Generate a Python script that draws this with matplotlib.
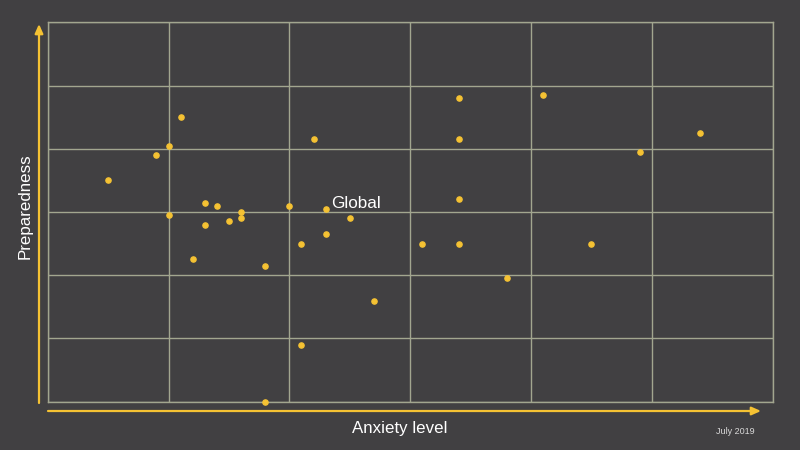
import matplotlib
matplotlib.use("Agg")
import matplotlib.pyplot as plt

# country points (anxiety, preparedness)
anxiety = [1.10, 1.00, 0.90, 0.50, 1.30, 1.40, 1.60, 1.00, 1.60, 1.50, 1.30,
           1.20, 1.80, 1.80, 2.20, 2.00, 2.30, 2.50, 2.30, 2.10, 2.70, 2.10,
           3.40, 4.10, 3.40, 3.40, 3.10, 3.40, 3.80, 5.40, 4.90, 4.50]
preparedness = [4.50, 4.05, 3.90, 3.50, 3.15, 3.10, 3.00, 2.95, 2.90, 2.85, 2.80,
                2.25, 2.15, 0.00, 4.15, 3.10, 3.05, 2.90, 2.65, 2.49, 1.60, 0.90,
                4.80, 4.85, 4.15, 3.20, 2.50, 2.50, 1.95, 4.25, 3.95, 2.50]
global_idx = 16
ticks = [0, 1, 2, 3, 4, 5, 6]

bg = "#414042"
gridc = "#a2a68f"
yellow = "#f5c233"

plt.rcParams['font.family'] = ['Liberation Sans', 'DejaVu Sans']

fig = plt.figure(figsize=(8, 4.5), dpi=100, facecolor=bg)
ax = fig.add_axes([47.7/800, 1-401.7/450, 725/800, 379.4/450])
ax.set_facecolor(bg)
ax.set_xlim(0, 6)
ax.set_ylim(0, 6)
ax.set_xticks(ticks)
ax.set_yticks(ticks)
ax.tick_params(length=0, labelbottom=False, labelleft=False)
ax.grid(True, color=gridc, linewidth=1.0)
for s in ax.spines.values():
    s.set_color(gridc)
    s.set_linewidth(1.0)

ax.scatter(anxiety, preparedness, s=14, color=yellow, zorder=3, clip_on=False)
ax.text(anxiety[global_idx] + 0.045, preparedness[global_idx] + 0.08, "Global",
        color="white", fontsize=12.3, ha="left", va="center")

# axis arrows
ap = dict(arrowstyle="-|>,head_length=0.45,head_width=0.2", color=yellow, lw=1.6,
          shrinkA=0, shrinkB=0)
fig.add_artist(matplotlib.patches.FancyArrowPatch((39, 450-403), (39, 450-24), transform=None,
                                                  mutation_scale=12, **ap))
fig.add_artist(matplotlib.patches.FancyArrowPatch((48, 450-411), (761, 450-411), transform=None,
                                                  mutation_scale=12, **ap))

fig.text(25/800, 1-206/450, "Preparedness", rotation=90, color="white", fontsize=12.2,
         ha="center", va="center")
fig.text(400/800, 1-428/450, "Anxiety level", color="white", fontsize=12.2,
         ha="center", va="center")
fig.text(735/800, 1-432/450, "July 2019", color="#d8d8d8", fontsize=6.5,
         ha="center", va="center")

fig.savefig("out.png", dpi=100, facecolor=bg)
